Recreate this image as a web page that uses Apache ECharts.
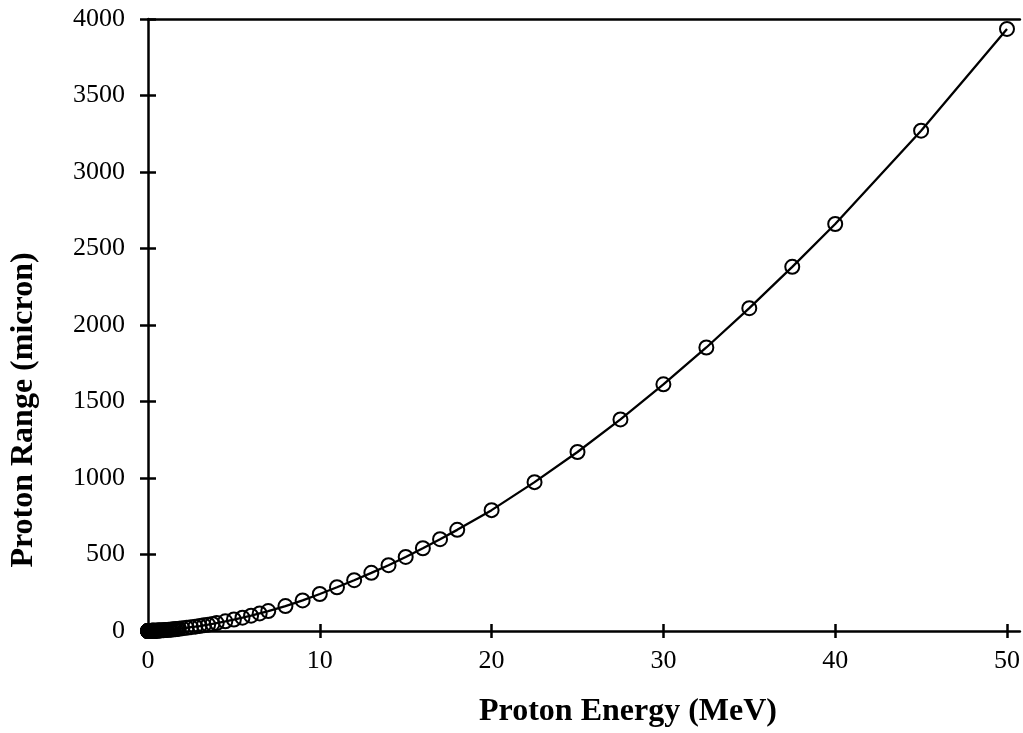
<!DOCTYPE html>
<html>
<head>
<meta charset="utf-8">
<script src="https://cdn.jsdelivr.net/npm/echarts@6/dist/echarts.min.js"></script>
<style>
html,body{margin:0;padding:0;background:#fff;}
#chart{width:1023px;height:733px;}
</style>
</head>
<body>
<div id="chart"></div>
<script>
// Proton energy (MeV)
const energies = [
  0.01,0.011,0.012,0.013,0.014,0.015,0.016,0.017,0.018,0.02,0.0225,0.025,0.0275,0.03,0.0325,0.035,0.0375,0.04,0.045,0.05,
  0.055,0.06,0.065,0.07,0.08,0.09,0.1,0.11,0.12,0.13,0.14,0.15,0.16,0.17,0.18,0.2,0.225,0.25,0.275,0.3,
  0.325,0.35,0.375,0.4,0.45,0.5,0.55,0.6,0.65,0.7,0.8,0.9,1.0,1.1,1.2,1.3,1.4,1.5,1.6,1.7,
  1.8,2.0,2.25,2.5,2.75,3.0,3.25,3.5,3.75,4.0,4.5,5.0,5.5,6.0,6.5,7.0,8.0,9.0,10,11,
  12,13,14,15,16,17,18,20,22.5,25,27.5,30,32.5,35,37.5,40,45,50
];
// Proton range (micron)
const ranges = [
  0.07,0.075,0.08,0.085,0.09,0.095,0.1,0.105,0.11,0.12,0.13,0.14,0.15,0.16,0.17,0.18,0.19,0.2,0.22,0.24,
  0.26,0.28,0.3,0.32,0.36,0.4,0.44,0.48,0.52,0.56,0.6,0.64,0.68,0.72,0.76,0.84,0.94,1.04,1.14,1.25,
  1.36,1.48,1.6,1.72,1.98,2.25,2.55,2.85,3.15,3.5,4.2,5.0,5.9,6.8,7.8,8.8,9.9,11,12.2,13.4,
  14.7,17.5,21,24.8,28.5,32.5,37,41.5,46.5,52,63,75,87,100,115,130,163,200,242,286,
  332,380,430,484,541,600,661,790,973,1170,1383,1612,1853,2110,2380,2660,3270,3935
];
const xTicks = [0,10,20,30,40,50];
const yTicks = [0,500,1000,1500,2000,2500,3000,3500,4000];
const xTitle = 'Proton Energy (MeV)';
const yTitle = 'Proton Range (micron)';

const data = energies.map((e,i)=>[e, ranges[i]]);
const FONT = 'Liberation Serif, Times New Roman, serif';
const lineStyle = {color:'#000', width:2.5};
const plain = v => String(v);

const chart = echarts.init(document.getElementById('chart'), null, {renderer:'canvas'});
chart.setOption({
  animation:false,
  backgroundColor:'#fff',
  grid:{left:148, right:0, top:19, bottom:102, containLabel:false},
  xAxis:[
    {type:'value', position:'bottom', min:0, max:50.75, interval:10,
     axisLine:{show:true, onZero:false, lineStyle},
     axisTick:{show:true, inside:false, length:7, lineStyle, customValues:xTicks.slice(1)},
     axisLabel:{show:true, margin:17, fontFamily:FONT, fontSize:26, color:'#000', customValues:xTicks, formatter:plain},
     splitLine:{show:false}},
    {type:'value', position:'bottom', min:0, max:50.75, interval:10,
     axisLine:{show:false},
     axisTick:{show:true, inside:true, length:7, lineStyle, customValues:xTicks.slice(1)},
     axisLabel:{show:false}, splitLine:{show:false}},
    {type:'value', position:'top', min:0, max:50.75, interval:10,
     axisLine:{show:true, onZero:false, lineStyle},
     axisTick:{show:false}, axisLabel:{show:false}, splitLine:{show:false}}
  ],
  yAxis:[
    {type:'value', position:'left', min:0, max:4000, interval:500,
     axisLine:{show:true, onZero:false, lineStyle},
     axisTick:{show:true, inside:false, length:8, lineStyle, customValues:yTicks.slice(1)},
     axisLabel:{show:true, margin:23, fontFamily:FONT, fontSize:26, color:'#000', customValues:yTicks, formatter:plain},
     splitLine:{show:false}},
    {type:'value', position:'left', min:0, max:4000, interval:500,
     axisLine:{show:false},
     axisTick:{show:true, inside:true, length:8, lineStyle, customValues:yTicks.slice(1)},
     axisLabel:{show:false}, splitLine:{show:false}}
  ],
  series:[{
    type:'line', xAxisIndex:0, yAxisIndex:0, data:data,
    smooth:false, clip:false,
    symbol:'circle', symbolSize:14, showAllSymbol:true,
    lineStyle:{color:'#000', width:2.3},
    itemStyle:{color:'rgba(0,0,0,0)', borderColor:'#000', borderWidth:2}
  }],
  graphic:[
    {type:'text', x:628, y:712,
     style:{text:xTitle, font:'bold 32px '+FONT, fill:'#000', textAlign:'center', textVerticalAlign:'middle'}},
    {type:'text', x:24, y:410, rotation:Math.PI/2,
     style:{text:yTitle, font:'bold 32px '+FONT, fill:'#000', textAlign:'center', textVerticalAlign:'middle'}}
  ]
});
</script>
</body>
</html>
